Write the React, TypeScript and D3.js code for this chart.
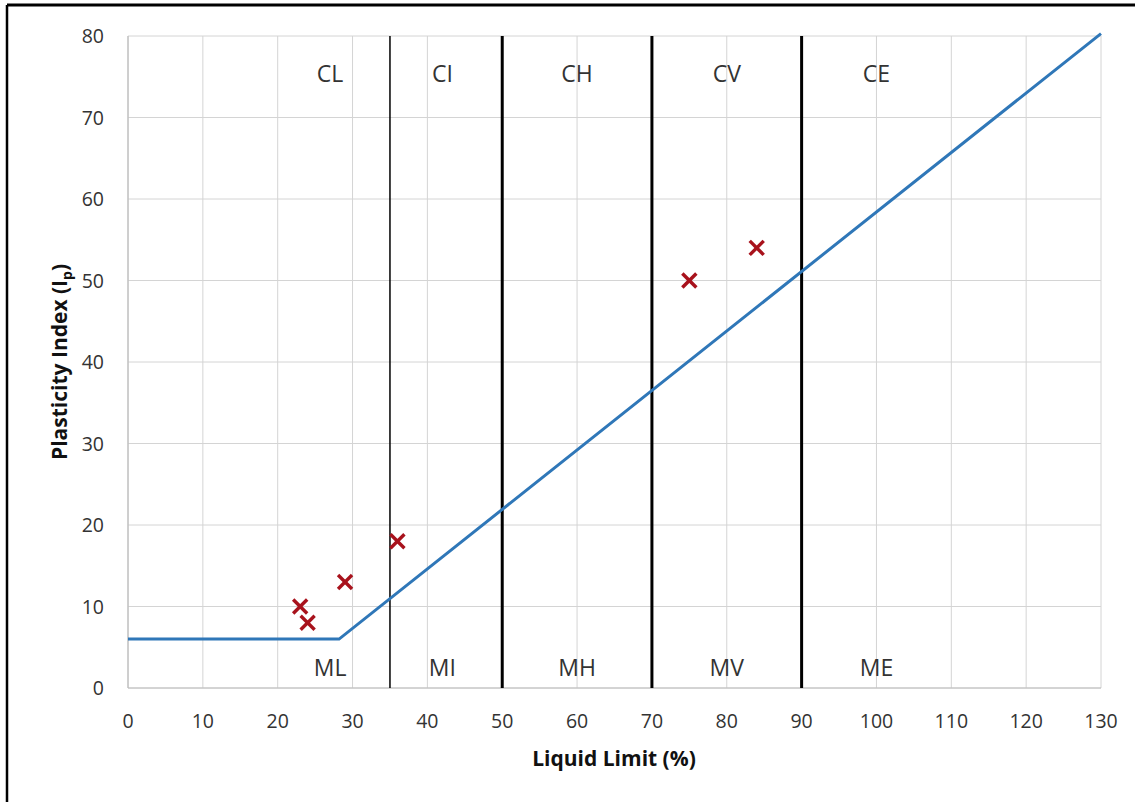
import React from "react";
import * as d3 from "d3";

const xTicks = [0, 10, 20, 30, 40, 50, 60, 70, 80, 90, 100, 110, 120, 130];
const yTicks = [0, 10, 20, 30, 40, 50, 60, 70, 80];
const aLineLL = [0, 28.2, 130];
const aLinePI = [6, 6, 80.3];
const sampleLL = [23, 24, 29, 36, 75, 84];
const samplePI = [10, 8, 13, 18, 50, 54];
const boundaries = [35, 50, 70, 90];
const boundaryThick = [false, true, true, true];
const zoneCentersLL = [27, 42, 60, 80, 100];
const clayZones = ["CL", "CI", "CH", "CV", "CE"];
const siltZones = ["ML", "MI", "MH", "MV", "ME"];

const W = 1135;
const H = 802;
const left = 128;
const right = 1101;
const top = 36;
const bottom = 688;
const FONT = "'Open Sans', 'Noto Sans', sans-serif";

export default function App() {
  const x = d3.scaleLinear().domain([0, 130]).range([left, right]);
  const y = d3.scaleLinear().domain([0, 80]).range([bottom, top]);
  const aLine = d3
    .line<number>()
    .x((d) => x(aLineLL[d]))
    .y((d) => y(aLinePI[d]));
  const idx = aLineLL.map((_, i) => i);
  const s = 7;
  return (
    <svg
      width={W}
      height={H}
      style={{ position: "absolute", left: 0, top: 0, background: "#fff" }}
      fontFamily={FONT}
    >
      <rect x={0} y={0} width={W} height={H} fill="#fff" />
      {/* frame */}
      <line x1={7} y1={5} x2={W} y2={5} stroke="#000" strokeWidth={3} />
      <line x1={7} y1={5} x2={7} y2={H} stroke="#000" strokeWidth={2.5} />
      {/* grid */}
      {xTicks.map((t) => (
        <line key={"gx" + t} x1={x(t)} x2={x(t)} y1={top} y2={bottom} stroke="#d4d4d4" strokeWidth={1} />
      ))}
      {yTicks.map((t) => (
        <line key={"gy" + t} x1={left} x2={right} y1={y(t)} y2={y(t)} stroke="#d4d4d4" strokeWidth={1} />
      ))}
      <line x1={left} x2={right} y1={bottom} y2={bottom} stroke="#bdbdbd" strokeWidth={1.2} />
      <line x1={left} x2={left} y1={top} y2={bottom} stroke="#bdbdbd" strokeWidth={1.2} />
      {/* boundaries */}
      {boundaries.map((b, i) => (
        <line
          key={"b" + b}
          x1={x(b)}
          x2={x(b)}
          y1={top}
          y2={bottom}
          stroke="#000"
          strokeWidth={boundaryThick[i] ? 3 : 1.5}
        />
      ))}
      {/* A-line */}
      <path d={aLine(idx) || ""} fill="none" stroke="#2f77b8" strokeWidth={3} />
      {/* samples */}
      {sampleLL.map((ll, i) => (
        <g key={"p" + i} stroke="#a8121c" strokeWidth={3.4} strokeLinecap="butt">
          <line x1={x(ll) - s} y1={y(samplePI[i]) - s} x2={x(ll) + s} y2={y(samplePI[i]) + s} />
          <line x1={x(ll) - s} y1={y(samplePI[i]) + s} x2={x(ll) + s} y2={y(samplePI[i]) - s} />
        </g>
      ))}
      {/* zone labels */}
      {clayZones.map((z, i) => (
        <text key={z} x={x(zoneCentersLL[i])} y={82} textAnchor="middle" fontSize={23} fill="#333">
          {z}
        </text>
      ))}
      {siltZones.map((z, i) => (
        <text key={z} x={x(zoneCentersLL[i])} y={676} textAnchor="middle" fontSize={23} fill="#333">
          {z}
        </text>
      ))}
      {/* tick labels */}
      {xTicks.map((t) => (
        <text key={"tx" + t} x={x(t)} y={728} textAnchor="middle" fontSize={19.5} fill="#333">
          {t}
        </text>
      ))}
      {yTicks.map((t) => (
        <text key={"ty" + t} x={104} y={y(t) + 7} textAnchor="end" fontSize={19.5} fill="#333">
          {t}
        </text>
      ))}
      {/* axis titles */}
      <text x={614} y={766} textAnchor="middle" fontSize={21} fontWeight="bold" fill="#111">
        Liquid Limit (%)
      </text>
      <text
        transform={`translate(67, ${(top + bottom) / 2}) rotate(-90)`}
        textAnchor="middle"
        fontSize={21}
        fontWeight="bold"
        fill="#111"
      >
        Plasticity Index (I
        <tspan fontSize={14} dy={5}>p</tspan>
        <tspan dy={-5}>)</tspan>
      </text>
    </svg>
  );
}
